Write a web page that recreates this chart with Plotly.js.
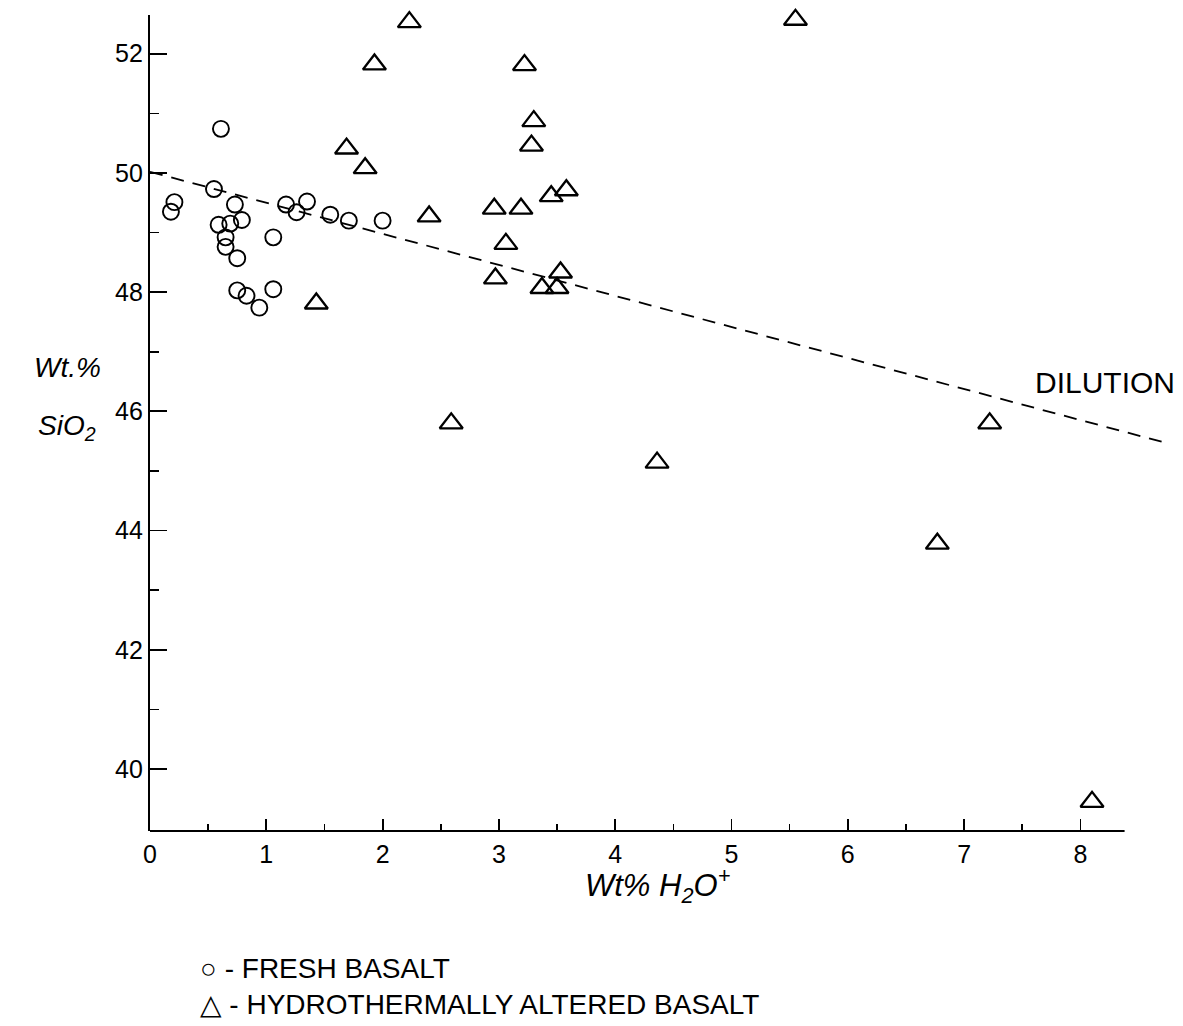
<!DOCTYPE html>
<html>
<head>
<meta charset="utf-8">
<script src="https://cdn.plot.ly/plotly-3.0.1.min.js"></script>
<style>html,body{margin:0;padding:0;background:#fff;}#chart{width:1183px;height:1026px;}</style>
</head>
<body>
<div id="chart"></div>
<script>
// Fresh basalt (circles): Wt% H2O+ vs Wt.% SiO2
const freshX = [0.18, 0.21, 0.55, 0.61, 0.73, 0.79, 0.59, 0.69, 0.65, 0.65, 0.75, 1.06, 1.17, 1.26, 1.35, 1.55, 1.71, 2.00, 0.75, 0.83, 0.94, 1.06];
const freshY = [49.35, 49.51, 49.73, 50.74, 49.47, 49.21, 49.13, 49.15, 48.92, 48.76, 48.57, 48.92, 49.47, 49.34, 49.52, 49.30, 49.20, 49.20, 48.03, 47.94, 47.74, 48.05];

// Hydrothermally altered basalt (triangles)
const alteredX = [2.23, 1.93, 3.22, 3.30, 3.28, 1.69, 1.85, 3.58, 3.45, 2.96, 3.19, 2.40, 3.06, 2.97, 3.53, 3.37, 3.50, 1.43, 5.55, 2.59, 4.36, 7.22, 6.77, 8.10];
const alteredY = [52.53, 51.82, 51.81, 50.87, 50.46, 50.41, 50.08, 49.71, 49.61, 49.40, 49.40, 49.27, 48.81, 48.23, 48.33, 48.07, 48.07, 47.81, 52.57, 45.80, 45.14, 45.80, 43.78, 39.45];

// Dilution line
const dilutionX = [0, 8.7];
const dilutionY = [50.02, 45.49];
const dilutionLabel = "DILUTION";

// Axis ticks
const xTicks = [0, 1, 2, 3, 4, 5, 6, 7, 8];
const xMinorTicks = [0.5, 1.5, 2.5, 3.5, 4.5, 5.5, 6.5, 7.5];
const yTicks = [40, 42, 44, 46, 48, 50, 52];
const yMinorTicks = [41, 43, 45, 47, 49, 51];

// Legend text
const seriesNames = ["FRESH BASALT", "HYDROTHERMALLY ALTERED BASALT"];
const seriesSymbols = ["○", "△"];

const FONT = "Liberation Sans, Arial, DejaVu Sans, sans-serif";

const traces = [
  {
    x: dilutionX, y: dilutionY, mode: "lines", hoverinfo: "skip",
    line: {color: "black", width: 1.8, dash: "13px,9px"}
  },
  {
    x: freshX, y: freshY, mode: "markers", name: seriesNames[0], cliponaxis: false,
    marker: {symbol: "circle-open", size: 16, color: "black", line: {width: 1.9, color: "black"}}
  },
  {
    x: alteredX, y: alteredY, mode: "markers", name: seriesNames[1], cliponaxis: false,
    marker: {symbol: "triangle-up-open", size: 20, color: "black", line: {width: 2.3, color: "black"}}
  }
];

const xEnd = 8.38;

const layout = {
  width: 1183, height: 1026,
  margin: {l: 150, r: 15, t: 15, b: 195},
  paper_bgcolor: "white", plot_bgcolor: "white",
  showlegend: false,
  font: {family: FONT, color: "black"},
  xaxis: {
    range: [0, 1018 / 116.3],
    showline: false, zeroline: false, showgrid: false,
    tickmode: "array", tickvals: xTicks, ticktext: xTicks.map(String),
    ticks: "inside", ticklen: 12, tickwidth: 1.8, tickcolor: "black",
    ticklabelstandoff: 6,
    tickfont: {family: FONT, size: 25, color: "black"},
    minor: {tickmode: "array", tickvals: xMinorTicks, ticks: "inside", ticklen: 7, tickwidth: 1.6, tickcolor: "black", showgrid: false}
  },
  yaxis: {
    range: [38.96, 52.65],
    showline: true, linewidth: 2.2, linecolor: "black",
    zeroline: false, showgrid: false,
    tickmode: "array", tickvals: yTicks, ticktext: yTicks.map(String),
    ticks: "inside", ticklen: 17, tickwidth: 1.8, tickcolor: "black",
    tickfont: {family: FONT, size: 25, color: "black"},
    minor: {tickmode: "array", tickvals: yMinorTicks, ticks: "inside", ticklen: 9, tickwidth: 1.6, tickcolor: "black", showgrid: false}
  },
  shapes: [
    {type: "line", xref: "x", yref: "paper", x0: 0, x1: xEnd, y0: 0, y1: 0, line: {color: "black", width: 2.2}}
  ],
  annotations: [
    {text: dilutionLabel, xref: "paper", yref: "paper", x: (1177 - 150) / 1018, y: (831 - 383) / 816,
     xanchor: "right", yanchor: "middle", showarrow: false, font: {family: FONT, size: 30, color: "black"}},
    {text: "<i>Wt% H<sub>2</sub>O<sup>+</sup></i>", xref: "paper", yref: "paper", x: (657 - 150) / 1018, y: (831 - 885) / 816,
     xanchor: "center", yanchor: "middle", showarrow: false, font: {family: FONT, size: 31, color: "black"}},
    {text: "<i>Wt.%</i>", xref: "paper", yref: "paper", x: (67 - 150) / 1018, y: (831 - 367) / 816,
     xanchor: "center", yanchor: "middle", showarrow: false, font: {family: FONT, size: 28, color: "black"}},
    {text: "<i>SiO<sub>2</sub></i>", xref: "paper", yref: "paper", x: (67 - 150) / 1018, y: (831 - 427) / 816,
     xanchor: "center", yanchor: "middle", showarrow: false, font: {family: FONT, size: 28, color: "black"}},
    {text: seriesSymbols[0] + " - " + seriesNames[0], xref: "paper", yref: "paper", x: (198 - 150) / 1018, y: (831 - 968) / 816,
     xanchor: "left", yanchor: "middle", showarrow: false, font: {family: FONT, size: 28, color: "black"}},
    {text: seriesSymbols[1] + " - " + seriesNames[1], xref: "paper", yref: "paper", x: (198 - 150) / 1018, y: (831 - 1005) / 816,
     xanchor: "left", yanchor: "middle", showarrow: false, font: {family: FONT, size: 28, color: "black"}}
  ]
};

Plotly.newPlot("chart", traces, layout, {displayModeBar: false, staticPlot: true});
</script>
</body>
</html>
